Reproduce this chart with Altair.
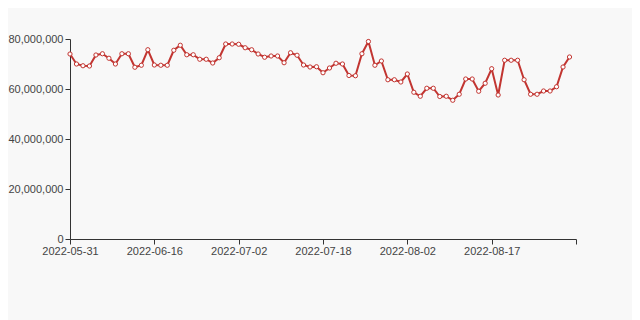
import altair as alt
import pandas as pd

dates = [
    "2022-05-31", "2022-06-01", "2022-06-02", "2022-06-03", "2022-06-06", "2022-06-07",
    "2022-06-08", "2022-06-09", "2022-06-10", "2022-06-11", "2022-06-13", "2022-06-14",
    "2022-06-15", "2022-06-16", "2022-06-17", "2022-06-18", "2022-06-20", "2022-06-21",
    "2022-06-22", "2022-06-23", "2022-06-24", "2022-06-25", "2022-06-27", "2022-06-28",
    "2022-06-29", "2022-06-30", "2022-07-02", "2022-07-04", "2022-07-05", "2022-07-06",
    "2022-07-07", "2022-07-08", "2022-07-09", "2022-07-11", "2022-07-12", "2022-07-13",
    "2022-07-14", "2022-07-15", "2022-07-16", "2022-07-18", "2022-07-19", "2022-07-20",
    "2022-07-21", "2022-07-22", "2022-07-23", "2022-07-25", "2022-07-26", "2022-07-27",
    "2022-07-28", "2022-07-29", "2022-07-30", "2022-08-01", "2022-08-02", "2022-08-03",
    "2022-08-04", "2022-08-05", "2022-08-06", "2022-08-08", "2022-08-09", "2022-08-10",
    "2022-08-11", "2022-08-12", "2022-08-13", "2022-08-15", "2022-08-16", "2022-08-17",
    "2022-08-18", "2022-08-19", "2022-08-20", "2022-08-22", "2022-08-23", "2022-08-24",
    "2022-08-25", "2022-08-26", "2022-08-27", "2022-08-29", "2022-08-30", "2022-08-31",
    "2022-09-01",
]

# values in millions (last category has no value)
values_m = [
    74.0, 70.0, 69.3, 69.2, 73.6, 74.1, 72.3, 70.0, 74.1, 74.1, 68.7, 69.5, 75.7,
    69.6, 69.5, 69.5, 75.5, 77.5, 73.7, 73.7, 71.9, 71.9, 70.4, 72.5, 78.0, 78.0,
    77.9, 76.5, 75.7, 74.0, 72.7, 73.2, 73.2, 70.5, 74.5, 73.5, 69.6, 68.8, 68.9,
    66.5, 68.4, 70.3, 70.0, 65.4, 65.3, 74.1, 79.0, 69.5, 71.2, 63.7, 63.7, 62.8,
    66.0, 58.7, 57.1, 60.3, 60.3, 57.0, 57.1, 55.5, 57.9, 64.0, 64.0, 59.1, 62.3,
    68.1, 57.6, 71.5, 71.5, 71.5, 63.7, 57.9, 57.9, 59.2, 59.2, 60.9, 68.8, 72.8,
    None,
]

tick_dates = ["2022-05-31", "2022-06-16", "2022-07-02", "2022-07-18",
              "2022-08-02", "2022-08-17", "2022-09-01"]
shown_labels = ["2022-05-31", "2022-06-16", "2022-07-02", "2022-07-18",
                "2022-08-02", "2022-08-17"]
y_ticks = [0, 20000000, 40000000, 60000000, 80000000]

df = pd.DataFrame({
    "date": dates,
    "value": [v * 1_000_000 if v is not None else None for v in values_m],
})

label_expr = "indexof(" + str(shown_labels).replace("'", '"') + ", datum.value) >= 0 ? datum.value : ''"

x_enc = alt.X(
    "date:O",
    scale=alt.Scale(domain=dates, type="point", padding=0),
    sort=None,
    axis=alt.Axis(
        values=tick_dates,
        labelExpr=label_expr,
        labelAngle=0,
        title=None,
        tickSize=5,
        labelPadding=1,
        domainColor="#333333",
        tickColor="#333333",
        labelColor="#444444",
        labelFontSize=11,
        labelFont="Liberation Sans",
        grid=False,
    ),
)
y_enc = alt.Y(
    "value:Q",
    scale=alt.Scale(domain=[0, 80000000], nice=False),
    axis=alt.Axis(
        values=y_ticks,
        labelExpr="format(datum.value, ',')",
        title=None,
        tickSize=5,
        labelPadding=2,
        domainColor="#333333",
        tickColor="#333333",
        labelColor="#444444",
        labelFontSize=11,
        labelFont="Liberation Sans",
        grid=False,
    ),
)

line = alt.Chart(df).mark_line(color="#c23531", strokeWidth=2).encode(x=x_enc, y=y_enc)
points = alt.Chart(df).mark_point(
    shape="circle", filled=True, fill="#ffffff", stroke="#c23531",
    strokeWidth=1, size=18, opacity=1,
).encode(x=x_enc, y=y_enc)

chart = (
    alt.layer(line, points)
    .properties(
        width=506,
        height=200,
        background="#f8f8f8",
        padding={"left": 62, "top": 31, "right": 56, "bottom": 81},
        autosize=alt.AutoSizeParams(type="none"),
    )
    .configure_view(stroke=None)
)

chart.save("out.html", embed_options={"renderer": "svg", "actions": False})
